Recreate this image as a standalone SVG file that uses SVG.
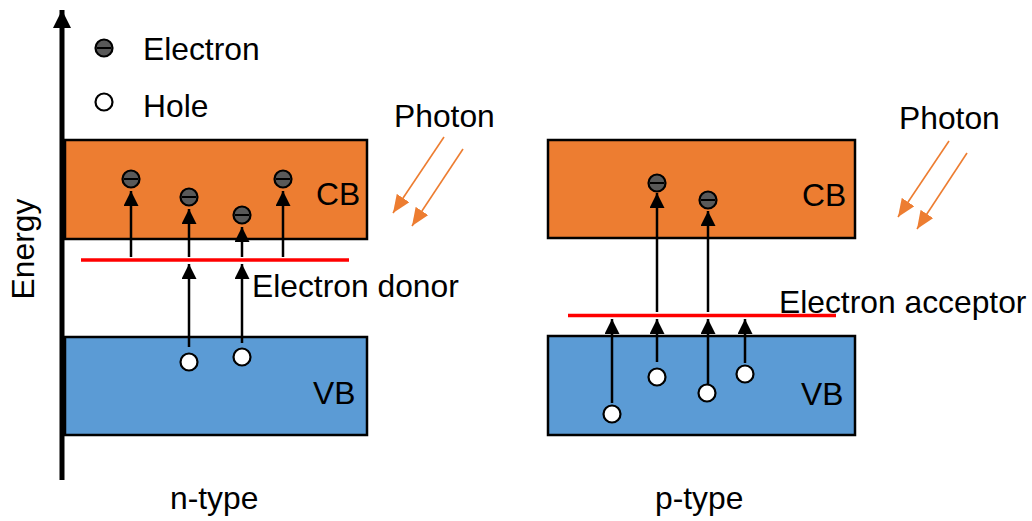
<svg xmlns="http://www.w3.org/2000/svg" width="1032" height="521" viewBox="0 0 1032 521">
<defs>
<style>
text{font-family:"Liberation Sans",Arial,sans-serif;font-size:31.8px;fill:#000}
.cb{fill:#ED7D31;stroke:#000;stroke-width:2.5}
.vb{fill:#5B9BD5;stroke:#000;stroke-width:2.5}
.lvl{stroke:#FF0000;stroke-width:3.5}
.arr{stroke:#000;stroke-width:2.5;fill:none;marker-end:url(#ah)}
.ph{stroke:#ED7D31;stroke-width:1.6;fill:none;marker-end:url(#ph)}
.el{fill:#595959;stroke:#000;stroke-width:2.2}
.ho{fill:#fff;stroke:#000;stroke-width:2.2}
.bar{stroke:#000;stroke-width:2}
</style>
<marker id="ah" viewBox="0 0 15 15" refX="15" refY="7.5" markerWidth="15" markerHeight="15" orient="auto" markerUnits="userSpaceOnUse"><path d="M0,0 L15,7.5 L0,15 z" fill="#000"/></marker>
<marker id="ph" viewBox="0 0 18 15" refX="18" refY="7.5" markerWidth="18" markerHeight="15" orient="auto" markerUnits="userSpaceOnUse"><path d="M0,0 L18,7.5 L0,15 z" fill="#ED7D31"/></marker>
<marker id="ax" viewBox="0 0 18 18" refX="18" refY="9" markerWidth="18" markerHeight="18" orient="auto" markerUnits="userSpaceOnUse"><path d="M0,0 L18,9 L0,18 z" fill="#000"/></marker>
<g id="electron"><circle r="8.5" class="el"/><line x1="-7" y1="0" x2="7" y2="0" class="bar"/></g>
<circle id="hole" r="8.5" class="ho"/>
</defs>
<rect width="1032" height="521" fill="#fff"/>

<g id="n-bands">
<rect id="n-cb" class="cb" x="65" y="140" width="302" height="99"/>
<rect id="n-vb" class="vb" x="65" y="337" width="302" height="98"/>
<line id="n-donor" class="lvl" x1="81" y1="260" x2="349" y2="260"/>
<text x="316" y="205">CB</text>
<text x="313" y="404">VB</text>
<text x="252" y="297">Electron donor</text>
<text x="170" y="509">n-type</text>
</g>

<g id="p-bands">
<rect id="p-cb" class="cb" x="548" y="140" width="307" height="98"/>
<rect id="p-vb" class="vb" x="548" y="336" width="307" height="99"/>
<line id="p-acceptor" class="lvl" x1="568" y1="315.5" x2="836" y2="315.5"/>
<text x="802" y="206">CB</text>
<text x="801" y="405">VB</text>
<text x="779" y="313">Electron acceptor</text>
<text x="655" y="509">p-type</text>
</g>

<g id="axis">
<line x1="62" y1="480" x2="62" y2="10" stroke="#000" stroke-width="5" marker-end="url(#ax)"/>
<text transform="translate(34,249) rotate(-90)" text-anchor="middle">Energy</text>
</g>

<g id="legend">
<use href="#electron" x="104" y="48"/>
<text x="143" y="60">Electron</text>
<use href="#hole" x="104" y="102"/>
<text x="143" y="117">Hole</text>
</g>

<g id="connectors">
<line class="arr" x1="131" y1="257" x2="131" y2="191"/>
<line class="arr" x1="189" y1="257" x2="189" y2="209"/>
<line class="arr" x1="242" y1="257" x2="242" y2="227"/>
<line class="arr" x1="283" y1="257" x2="283" y2="191"/>
<line class="arr" x1="189" y1="347" x2="189" y2="264"/>
<line class="arr" x1="242" y1="343" x2="242" y2="264"/>
<line class="arr" x1="657" y1="312" x2="657" y2="193"/>
<line class="arr" x1="708" y1="312" x2="708" y2="211"/>
<line class="arr" x1="612" y1="403" x2="612" y2="319"/>
<line class="arr" x1="657" y1="362" x2="657" y2="319"/>
<line class="arr" x1="708" y1="384" x2="708" y2="319"/>
<line class="arr" x1="745" y1="363" x2="745" y2="319"/>
<line class="ph" x1="444" y1="137" x2="393" y2="213"/>
<line class="ph" x1="463" y1="149" x2="412" y2="226"/>
<line class="ph" x1="949" y1="141" x2="898" y2="217"/>
<line class="ph" x1="967" y1="153" x2="917" y2="229"/>
</g>

<g id="photon-labels">
<text x="394" y="127">Photon</text>
<text x="899" y="129">Photon</text>
</g>

<g id="particles">
<use href="#electron" x="131" y="179"/>
<use href="#electron" x="189" y="197"/>
<use href="#electron" x="242" y="215"/>
<use href="#electron" x="283" y="179"/>
<use href="#hole" x="189" y="362"/>
<use href="#hole" x="242" y="357"/>
<use href="#electron" x="657" y="183"/>
<use href="#electron" x="708" y="200"/>
<use href="#hole" x="612" y="414"/>
<use href="#hole" x="657" y="377"/>
<use href="#hole" x="707" y="393"/>
<use href="#hole" x="745" y="374"/>
</g>
</svg>
